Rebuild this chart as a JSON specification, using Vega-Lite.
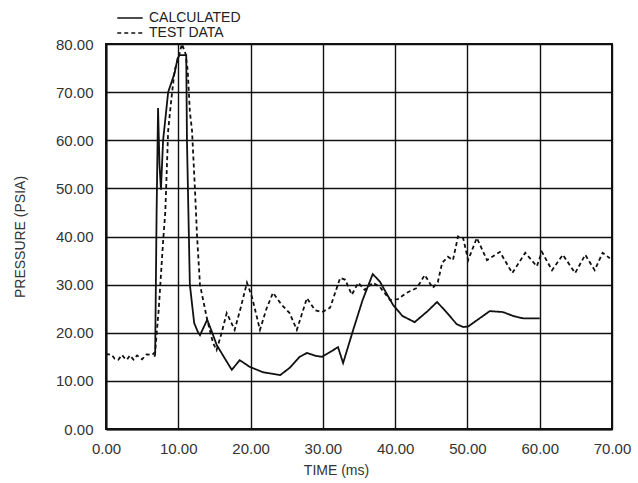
{
  "$schema": "https://vega.github.io/schema/vega-lite/v6.json",
  "width": 506,
  "height": 385,
  "autosize": {"type": "none"},
  "padding": {"left": 106, "top": 44, "right": 26, "bottom": 54},
  "background": "white",
  "config": {
    "view": {"stroke": "#111", "strokeWidth": 2},
    "font": "Liberation Sans",
    "axis": {
      "gridColor": "#111", "gridOpacity": 1, "gridWidth": 1.4,
      "domainColor": "#111", "domainWidth": 2,
      "ticks": false, "labelFlush": false,
      "labelFont": "Liberation Sans", "labelFontSize": 15, "labelColor": "#333",
      "titleFont": "Liberation Sans", "titleFontSize": 14, "titleFontWeight": "normal", "titleColor": "#333"
    }
  },
  "data": {"values": [
    {"series": "CALCULATED", "t": 6.7, "p": 15},
    {"series": "CALCULATED", "t": 6.8, "p": 15.5},
    {"series": "CALCULATED", "t": 7.0, "p": 45},
    {"series": "CALCULATED", "t": 7.2, "p": 66.7},
    {"series": "CALCULATED", "t": 7.4, "p": 55},
    {"series": "CALCULATED", "t": 7.6, "p": 49.7},
    {"series": "CALCULATED", "t": 7.9, "p": 60},
    {"series": "CALCULATED", "t": 8.6, "p": 70},
    {"series": "CALCULATED", "t": 9.5, "p": 74},
    {"series": "CALCULATED", "t": 9.9, "p": 77},
    {"series": "CALCULATED", "t": 10.2, "p": 77.7},
    {"series": "CALCULATED", "t": 11.1, "p": 77.7},
    {"series": "CALCULATED", "t": 11.2, "p": 60},
    {"series": "CALCULATED", "t": 11.6, "p": 30},
    {"series": "CALCULATED", "t": 12.2, "p": 22},
    {"series": "CALCULATED", "t": 12.7, "p": 20.2},
    {"series": "CALCULATED", "t": 13.0, "p": 19.5},
    {"series": "CALCULATED", "t": 14.0, "p": 22.7},
    {"series": "CALCULATED", "t": 14.7, "p": 20},
    {"series": "CALCULATED", "t": 15.3, "p": 17.5},
    {"series": "CALCULATED", "t": 16.5, "p": 14.5},
    {"series": "CALCULATED", "t": 17.4, "p": 12.3},
    {"series": "CALCULATED", "t": 18.5, "p": 14.3},
    {"series": "CALCULATED", "t": 19.9, "p": 12.9},
    {"series": "CALCULATED", "t": 21.7, "p": 11.8},
    {"series": "CALCULATED", "t": 24.1, "p": 11.2},
    {"series": "CALCULATED", "t": 25.4, "p": 12.7},
    {"series": "CALCULATED", "t": 26.8, "p": 15},
    {"series": "CALCULATED", "t": 27.8, "p": 15.8},
    {"series": "CALCULATED", "t": 29.0, "p": 15.2},
    {"series": "CALCULATED", "t": 29.9, "p": 15},
    {"series": "CALCULATED", "t": 31.0, "p": 16},
    {"series": "CALCULATED", "t": 32.1, "p": 17},
    {"series": "CALCULATED", "t": 32.8, "p": 13.7},
    {"series": "CALCULATED", "t": 34.2, "p": 20.6},
    {"series": "CALCULATED", "t": 35.5, "p": 26.8},
    {"series": "CALCULATED", "t": 36.9, "p": 32.2},
    {"series": "CALCULATED", "t": 37.9, "p": 30.6},
    {"series": "CALCULATED", "t": 39.7, "p": 25.8},
    {"series": "CALCULATED", "t": 41.0, "p": 23.5},
    {"series": "CALCULATED", "t": 42.7, "p": 22.2},
    {"series": "CALCULATED", "t": 44.5, "p": 24.5},
    {"series": "CALCULATED", "t": 45.8, "p": 26.4},
    {"series": "CALCULATED", "t": 47.2, "p": 24.1},
    {"series": "CALCULATED", "t": 48.5, "p": 21.8},
    {"series": "CALCULATED", "t": 49.4, "p": 21.2},
    {"series": "CALCULATED", "t": 50.1, "p": 21.3},
    {"series": "CALCULATED", "t": 51.5, "p": 22.8},
    {"series": "CALCULATED", "t": 53.1, "p": 24.5},
    {"series": "CALCULATED", "t": 54.9, "p": 24.3},
    {"series": "CALCULATED", "t": 56.5, "p": 23.4},
    {"series": "CALCULATED", "t": 57.7, "p": 23},
    {"series": "CALCULATED", "t": 60.0, "p": 23},
    {"series": "TEST DATA", "t": 0, "p": 15.6},
    {"series": "TEST DATA", "t": 0.8, "p": 15.4},
    {"series": "TEST DATA", "t": 1.2, "p": 14.6},
    {"series": "TEST DATA", "t": 1.7, "p": 14.4},
    {"series": "TEST DATA", "t": 2.2, "p": 15.4},
    {"series": "TEST DATA", "t": 2.6, "p": 14.7},
    {"series": "TEST DATA", "t": 2.9, "p": 14.4},
    {"series": "TEST DATA", "t": 3.3, "p": 15.3},
    {"series": "TEST DATA", "t": 3.8, "p": 14.4},
    {"series": "TEST DATA", "t": 4.3, "p": 15.3},
    {"series": "TEST DATA", "t": 5.0, "p": 14.5},
    {"series": "TEST DATA", "t": 5.6, "p": 15.5},
    {"series": "TEST DATA", "t": 6.4, "p": 15.4},
    {"series": "TEST DATA", "t": 6.8, "p": 16},
    {"series": "TEST DATA", "t": 7.3, "p": 25},
    {"series": "TEST DATA", "t": 7.9, "p": 39},
    {"series": "TEST DATA", "t": 8.2, "p": 45},
    {"series": "TEST DATA", "t": 8.6, "p": 62},
    {"series": "TEST DATA", "t": 9.0, "p": 68},
    {"series": "TEST DATA", "t": 9.5, "p": 74.6},
    {"series": "TEST DATA", "t": 10.0, "p": 77},
    {"series": "TEST DATA", "t": 10.5, "p": 80},
    {"series": "TEST DATA", "t": 11.0, "p": 78},
    {"series": "TEST DATA", "t": 11.3, "p": 74.6},
    {"series": "TEST DATA", "t": 11.6, "p": 66},
    {"series": "TEST DATA", "t": 11.9, "p": 62},
    {"series": "TEST DATA", "t": 12.3, "p": 50},
    {"series": "TEST DATA", "t": 12.6, "p": 40},
    {"series": "TEST DATA", "t": 13.0, "p": 30},
    {"series": "TEST DATA", "t": 14.0, "p": 22.7},
    {"series": "TEST DATA", "t": 14.8, "p": 17.9},
    {"series": "TEST DATA", "t": 15.3, "p": 16.4},
    {"series": "TEST DATA", "t": 16.0, "p": 20},
    {"series": "TEST DATA", "t": 16.7, "p": 24.1},
    {"series": "TEST DATA", "t": 17.8, "p": 20.6},
    {"series": "TEST DATA", "t": 18.6, "p": 25},
    {"series": "TEST DATA", "t": 19.5, "p": 30.4},
    {"series": "TEST DATA", "t": 20.2, "p": 27.4},
    {"series": "TEST DATA", "t": 21.3, "p": 20.6},
    {"series": "TEST DATA", "t": 22.2, "p": 25},
    {"series": "TEST DATA", "t": 23.1, "p": 28.3},
    {"series": "TEST DATA", "t": 24.3, "p": 25.8},
    {"series": "TEST DATA", "t": 25.4, "p": 24.1},
    {"series": "TEST DATA", "t": 26.4, "p": 20.6},
    {"series": "TEST DATA", "t": 27.8, "p": 27.2},
    {"series": "TEST DATA", "t": 28.9, "p": 24.7},
    {"series": "TEST DATA", "t": 29.9, "p": 24.3},
    {"series": "TEST DATA", "t": 31.0, "p": 25.2},
    {"series": "TEST DATA", "t": 32.4, "p": 31.4},
    {"series": "TEST DATA", "t": 33.1, "p": 31},
    {"series": "TEST DATA", "t": 34.0, "p": 27.9},
    {"series": "TEST DATA", "t": 34.9, "p": 30.4},
    {"series": "TEST DATA", "t": 35.8, "p": 28.9},
    {"series": "TEST DATA", "t": 36.9, "p": 30.4},
    {"series": "TEST DATA", "t": 37.9, "p": 29.5},
    {"series": "TEST DATA", "t": 39.3, "p": 26.8},
    {"series": "TEST DATA", "t": 40.4, "p": 27},
    {"series": "TEST DATA", "t": 41.6, "p": 28.3},
    {"series": "TEST DATA", "t": 43.0, "p": 29.3},
    {"series": "TEST DATA", "t": 44.1, "p": 32},
    {"series": "TEST DATA", "t": 45.2, "p": 29.3},
    {"series": "TEST DATA", "t": 45.9, "p": 30.5},
    {"series": "TEST DATA", "t": 46.5, "p": 34.5},
    {"series": "TEST DATA", "t": 47.3, "p": 35.8},
    {"series": "TEST DATA", "t": 48.0, "p": 35.1},
    {"series": "TEST DATA", "t": 48.7, "p": 40},
    {"series": "TEST DATA", "t": 49.4, "p": 39.7},
    {"series": "TEST DATA", "t": 50.1, "p": 35.1},
    {"series": "TEST DATA", "t": 51.3, "p": 39.7},
    {"series": "TEST DATA", "t": 52.7, "p": 35.1},
    {"series": "TEST DATA", "t": 54.5, "p": 36.8},
    {"series": "TEST DATA", "t": 56.2, "p": 32.4},
    {"series": "TEST DATA", "t": 58.0, "p": 36.6},
    {"series": "TEST DATA", "t": 59.6, "p": 33.8},
    {"series": "TEST DATA", "t": 60.3, "p": 36.8},
    {"series": "TEST DATA", "t": 61.7, "p": 33},
    {"series": "TEST DATA", "t": 63.2, "p": 36.2},
    {"series": "TEST DATA", "t": 64.9, "p": 32.4},
    {"series": "TEST DATA", "t": 66.3, "p": 36.2},
    {"series": "TEST DATA", "t": 67.6, "p": 33},
    {"series": "TEST DATA", "t": 68.7, "p": 36.6},
    {"series": "TEST DATA", "t": 69.7, "p": 35.5}
  ]},
  "mark": {"type": "line", "color": "#111", "strokeWidth": 1.8, "clip": true},
  "encoding": {
    "x": {
      "field": "t", "type": "quantitative",
      "scale": {"domain": [0, 70], "nice": false},
      "axis": {"values": [0, 10, 20, 30, 40, 50, 60, 70], "format": ".2f", "title": "TIME (ms)", "labelPadding": 12, "titlePadding": 7, "titleX": 230}
    },
    "y": {
      "field": "p", "type": "quantitative",
      "scale": {"domain": [0, 80], "nice": false},
      "axis": {"values": [0, 10, 20, 30, 40, 50, 60, 70, 80], "format": ".2f", "title": "PRESSURE (PSIA)", "labelPadding": 13, "titlePadding": 28}
    },
    "strokeDash": {
      "field": "series", "type": "nominal",
      "scale": {"domain": ["CALCULATED", "TEST DATA"], "range": [[1, 0], [4, 3]]},
      "legend": {
        "title": null, "orient": "none", "legendX": 16, "legendY": -34,
        "symbolType": "M-1.9,0H1.9", "symbolFillColor": "transparent", "symbolStrokeColor": "#111", "symbolStrokeWidth": 1.6, "symbolSize": 180,
        "labelFont": "Liberation Sans", "labelFontSize": 14, "labelColor": "#222",
        "rowPadding": 0, "labelOffset": 11
      }
    }
  }
}
